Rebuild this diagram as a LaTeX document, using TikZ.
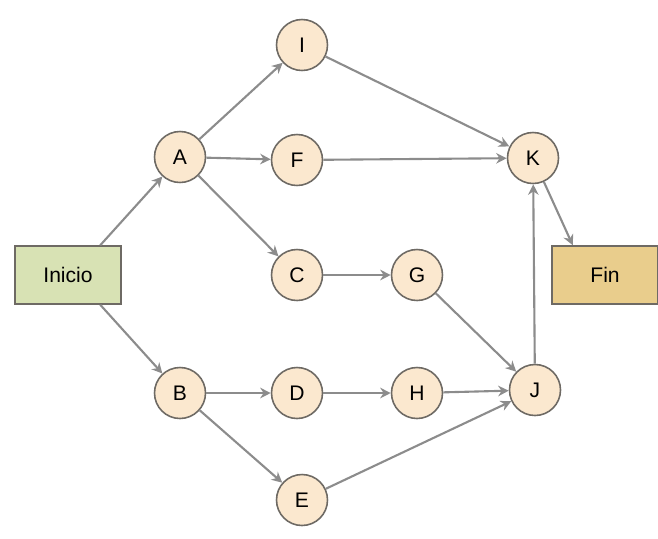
\documentclass[tikz,border=0pt]{standalone}
\usepackage{fontspec}
\setmainfont{Liberation Sans}
\usetikzlibrary{arrows.meta,calc}

\definecolor{evfill}{HTML}{FBE8CF}
\definecolor{evline}{HTML}{6E6A64}
\definecolor{iniciofill}{HTML}{D8E2B4}
\definecolor{finfill}{HTML}{E9CD8C}
\definecolor{arrowgray}{HTML}{8C8C8C}

\begin{document}
\begin{tikzpicture}[x=0.02cm, y=-0.02cm,
    every node/.style={font=\fontsize{12}{14}\selectfont},
    ev/.style={circle, draw=evline, line width=0.9pt, fill=evfill, minimum size=1.02cm, inner sep=0pt},
    box/.style={rectangle, draw=evline, line width=0.9pt, minimum width=2.12cm, minimum height=1.16cm, inner sep=0pt},
    arr/.style={-{Stealth[length=6pt,width=6pt]}, draw=arrowgray, line width=1.2pt}
]
\useasboundingbox (0,0) rectangle (658,538);
      \node[box, fill=iniciofill] (ini) at (68,275) {Inicio};
      \node[box, fill=finfill] (fin) at (605,275) {Fin};
      \node[ev] (I) at (302,45) {I};
      \node[ev] (A) at (180,157) {A};
      \node[ev] (F) at (297,160) {F};
      \node[ev] (K) at (533,158) {K};
      \node[ev] (C) at (297,275) {C};
      \node[ev] (G) at (417,275) {G};
      \node[ev] (B) at (180,393) {B};
      \node[ev] (D) at (297,393) {D};
      \node[ev] (H) at (417,393) {H};
      \node[ev] (J) at (535,390) {J};
      \node[ev] (E) at (302,500) {E};
% conexiones
\draw[arr] ($(ini.north east)!0.2!(ini.north west)$) -- (A);
\draw[arr] ($(ini.south east)!0.2!(ini.south west)$) -- (B);
\draw[arr] (A) -- (I);
\draw[arr] (A) -- (F);
\draw[arr] (A) -- (C);
\draw[arr] (I) -- (K);
\draw[arr] (F) -- (K);
\draw[arr] (C) -- (G);
\draw[arr] (G) -- (J);
\draw[arr] (B) -- (D);
\draw[arr] (B) -- (E);
\draw[arr] (D) -- (H);
\draw[arr] (H) -- (J);
\draw[arr] (E) -- (J);
\draw[arr] (J) -- (K);
\draw[arr] (K) -- ($(fin.north west)!0.2!(fin.north east)$);
  \end{tikzpicture}
\end{document}
